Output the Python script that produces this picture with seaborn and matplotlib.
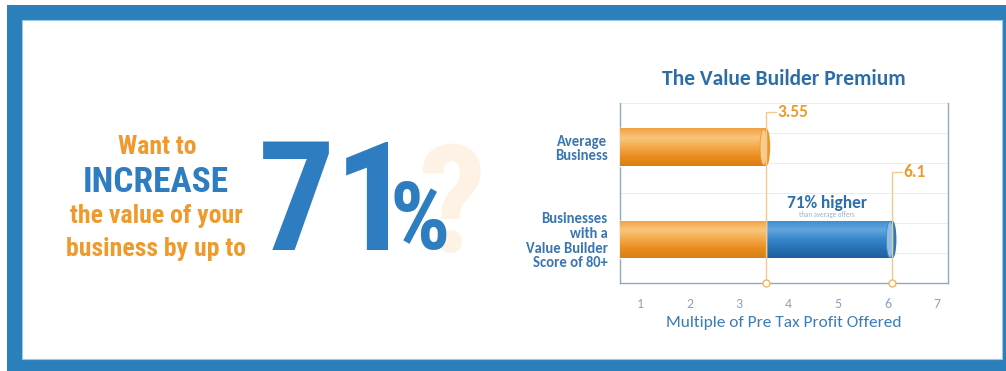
import numpy as np
import pandas as pd
import matplotlib
matplotlib.use("Agg")
import matplotlib.pyplot as plt
from matplotlib.patches import Rectangle, Ellipse
from matplotlib.colors import LinearSegmentedColormap
import seaborn as sns

# ---------------- data ----------------
categories = ["Average\nBusiness", "Businesses\nwith a\nValue Builder\nScore of 80+"]
average_multiple = 3.55
value_builder_multiple = 6.1
total_values = [average_multiple, value_builder_multiple]
base_values = [average_multiple, average_multiple]
x_ticks = [1, 2, 3, 4, 5, 6, 7]
value_labels = ["3.55", "6.1"]

# ---------------- style ----------------
sns.set_theme(style="white")
plt.rcParams['font.family'] = ['Carlito', 'Open Sans', 'DejaVu Sans']

ORANGE = "#F0961E"
ORANGE_TXT = "#EE9A2C"
BLUE = "#2E7DC0"
BLUE_TXT = "#2C6FAE"
BORDER = "#2B7FBB"

fig = plt.figure(figsize=(10.06, 3.71), dpi=100)
W, H = 1006, 371

def fx(px):
    return px / W

def fy(py):
    return 1 - py / H

# frame (behind everything)
fig.patches.append(Rectangle((fx(7), 0), 1 - fx(7), fy(5), transform=fig.transFigure,
                             facecolor=BORDER, edgecolor="none", zorder=-2))
fig.patches.append(Rectangle((fx(22), fy(359)), fx(1002) - fx(22), fy(20) - fy(359),
                             transform=fig.transFigure, facecolor="white",
                             edgecolor="#9cc8e4", linewidth=0.8, zorder=-1))

# ---------------- left headline ----------------
narrow = dict(family=['Roboto Condensed', 'Archivo Narrow', 'Asap Condensed', 'DejaVu Sans'],
              fontweight='bold')
fig.text(fx(157), fy(147), "Want to", ha="center", va="center", color=ORANGE_TXT,
         fontsize=18.5, **narrow)
fig.text(fx(156), fy(182), "INCREASE", ha="center", va="center", color=BLUE,
         fontsize=25.5, **narrow)
fig.text(fx(156), fy(216), "the value of your", ha="center", va="center", color=ORANGE_TXT,
         fontsize=18.5, **narrow)
fig.text(fx(156), fy(249), "business by up to", ha="center", va="center", color=ORANGE_TXT,
         fontsize=18.5, **narrow)
fig.text(fx(452), fy(252), "?", ha="center", va="baseline", color="#FDF2E4",
         fontsize=108, zorder=1, **narrow)
fig.text(fx(258), fy(250), "71", ha="left", va="baseline", color=BLUE,
         fontsize=110, zorder=2, **narrow)
fig.text(fx(389), fy(249), "%", ha="left", va="baseline", color=BLUE,
         fontsize=68, zorder=2, **narrow)

# ---------------- chart ----------------
ax = fig.add_axes([fx(620), fy(283), fx(948) - fx(620), fy(103) - fy(283)])
ax.set_facecolor("none")
df_total = pd.DataFrame({"cat": categories, "val": total_values})
df_base = pd.DataFrame({"cat": categories, "val": base_values})
sns.barplot(data=df_total, x="val", y="cat", orient="h", hue="cat",
            palette=[ORANGE, BLUE], width=0.41, legend=False, ax=ax, zorder=3)
sns.barplot(data=df_base, x="val", y="cat", orient="h", color=ORANGE,
            width=0.41, ax=ax, zorder=4)

x_lo, x_hi = 0.596, 7.222
y_top, y_bot = -0.476, 1.47

grad = np.linspace(0, 1, 64).reshape(-1, 1)
cmaps = {
    "o": LinearSegmentedColormap.from_list("o", ["#F2A040", "#F9C67E", "#F4A94B", "#E98E1D", "#D97E12"]),
    "b": LinearSegmentedColormap.from_list("b", ["#3D8CCF", "#63A7DE", "#3887C9", "#2771B4", "#1E5F9E"]),
}
for p in list(ax.patches):
    x0, y0 = p.get_x(), p.get_y()
    w, h = p.get_width(), p.get_height()
    fc = p.get_facecolor()
    key = "o" if fc[0] > 0.6 else "b"
    xs = max(x0, x_lo)
    im = ax.imshow(grad, extent=[xs, x0 + w, y0 + h, y0], aspect="auto",
                   cmap=cmaps[key], zorder=p.get_zorder() + 0.1, interpolation="bicubic",
                   origin="upper")
    im.set_clip_path(p)
ax.set_aspect("auto")
ax.set_xlim(x_lo, x_hi)
ax.set_ylim(y_bot, y_top)

# rounded cylinder ends
for i, (v, c, body, ec) in enumerate([(average_multiple, "#F8CB8C", "#EC961F", "#E39A3A"),
                                      (value_builder_multiple, "#8CC0E8", "#2A78BE", "#3F86C4")]):
    ax.add_patch(Ellipse((v, i), 0.16, 0.41, facecolor=body, edgecolor="none", zorder=5.5))
    ax.add_patch(Ellipse((v - 0.05, i), 0.15, 0.39, facecolor=c, edgecolor=ec,
                         linewidth=0.6, zorder=6))

for k in range(7):
    yy = y_top + k * (y_bot - y_top) / 6
    ax.axhline(yy, color="#E9EDF1", linewidth=0.8, zorder=1)

ax.spines["top"].set_visible(False)
for s in ["left", "right", "bottom"]:
    ax.spines[s].set_color("#8FA9C2")
    ax.spines[s].set_linewidth(1.0)

ax.set_xticks(x_ticks)
ax.set_xticklabels([str(t) for t in x_ticks])
ax.tick_params(axis="x", length=3, color="#8FA9C2", direction="in", pad=11,
               labelsize=10, labelcolor="#8AA3BF")
ax.tick_params(axis="y", length=0, pad=9, labelsize=10.5, labelcolor="#3A76B0")
for lbl in ax.get_yticklabels():
    lbl.set_fontweight("bold")
    lbl.set_linespacing(1.05)
ax.set_ylabel("")
ax.set_xlabel("Multiple of Pre Tax Profit Offered", color="#3A7CBA", fontsize=12.5,
              labelpad=4)
ax.set_title("The Value Builder Premium", color="#2C6DA6", fontsize=15.5,
             fontweight="bold", pad=13)

callout_tops = [-0.379, 0.27]
for v, yt, lab in zip(total_values, callout_tops, value_labels):
    ax.plot([v, v, v + 0.2], [y_bot, yt, yt], color="#F6C88C", linewidth=1.0,
            zorder=7, clip_on=False)
    ax.plot([v], [y_bot], marker="o", markersize=5, markerfacecolor="white",
            markeredgecolor="#F2B564", markeredgewidth=1.0, zorder=8, clip_on=False)
    ax.text(v + 0.23, yt, lab, color=ORANGE_TXT, fontsize=12.5, fontweight="bold",
            ha="left", va="center", zorder=8)

ax.text(4.78, 0.6, "71% higher", color=BLUE_TXT, fontsize=12.5, fontweight="bold",
        ha="center", va="center", zorder=8)
ax.text(4.78, 0.73, "than average offers", color="#9AAFC3", fontsize=5,
        ha="center", va="center", zorder=8)

fig.savefig("out.png", dpi=100)
